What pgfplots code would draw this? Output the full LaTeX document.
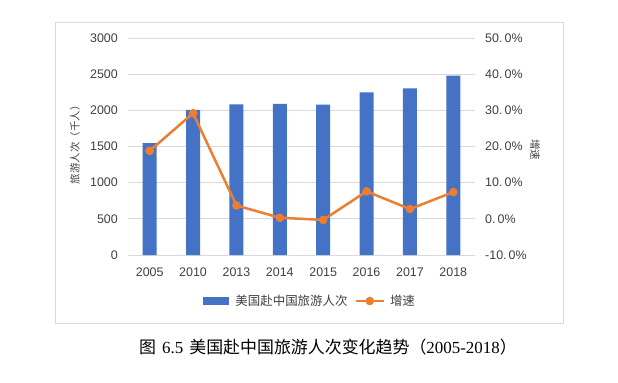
\documentclass[border=0pt]{standalone}
\usepackage{pgfplots}
\pgfplotsset{compat=1.18}
\usepackage{fontspec}
\setmainfont{Liberation Sans}
\newfontfamily\cjk{Noto Sans CJK SC}
\newfontfamily\serifnum{Liberation Serif}
\definecolor{barblue}{HTML}{4472C4}
\definecolor{lineorange}{HTML}{ED7D31}
\definecolor{gridgray}{HTML}{D9D9D9}
\definecolor{textgray}{HTML}{404040}
\pgfplotsset{
  linelegend/.style={legend image code/.code={\draw[mark repeat=2,mark phase=2,##1] plot coordinates {(0bp,0bp) (14bp,0bp) (28bp,0bp)};}},
  barlegend/.style={legend image code/.code={\fill[barblue] (0bp,-3.5bp) rectangle (25bp,3.5bp);}},
}
\begin{document}
\begin{tikzpicture}[x=1bp,y=1bp]
\path (0,0) rectangle (618,382);
\draw[gridgray, line width=1bp] (55,59) rectangle (563,359);
\begin{axis}[
  at={(128bp,127bp)}, anchor=south west,
  scale only axis, width=347bp, height=217bp,
  xmin=-0.5, xmax=7.5, ymin=0, ymax=3000,
  xtick={0,...,7}, xticklabels={2005,2010,2013,2014,2015,2016,2017,2018},
  ytick={0,500,...,3000},
  axis x line*=bottom, axis y line*=left,
  x axis line style={gridgray, line width=1bp, -},
  y axis line style={draw=none},
  ymajorgrids, grid style={gridgray, line width=0.8bp},
  major tick length=0pt,
  /pgf/number format/assume math mode=true,
  /pgf/number format/1000 sep={},
  tick label style={font=\fontsize{12.5}{14}\selectfont, text=textgray, inner sep=0pt},
  yticklabel style={xshift=-10bp},
  xticklabel style={yshift=-12.5bp},
  ylabel={\cjk 旅游人次（千人）},
  ylabel style={font=\fontsize{10.5}{12}\selectfont, text=textgray, at={(axis description cs:-0.153,0.52)}, anchor=center},
]
\addplot[ybar, bar width=14bp, fill=barblue, draw=none] coordinates {
(0,1548) (1,2005) (2,2083) (3,2088) (4,2078) (5,2249) (6,2304) (7,2479)};
\end{axis}
\begin{axis}[
  at={(128bp,127bp)}, anchor=south west,
  scale only axis, width=347bp, height=217bp,
  xmin=-0.5, xmax=7.5, ymin=-10, ymax=50,
  axis x line=none, axis y line*=right,
  y axis line style={draw=none},
  ytick={-10,0,10,20,30,40,50},
  yticklabels={-10.\,0\%,0.\,0\%,10.\,0\%,20.\,0\%,30.\,0\%,40.\,0\%,50.\,0\%},
  major tick length=0pt,
  tick label style={font=\fontsize{12.5}{14}\selectfont, text=textgray, inner sep=0pt},
  yticklabel style={xshift=10bp, anchor=west},
  ylabel={\cjk 增速},
  ylabel style={font=\fontsize{10.5}{12}\selectfont, text=textgray, at={(axis description cs:1.173,0.484)}, anchor=center, rotate=180},
  legend style={at={(0.5216,-0.212)}, anchor=center, draw=none, fill=none,
    legend columns=2, font=\cjk\fontsize{12.5}{14}\selectfont, text=textgray,
    /tikz/every even column/.append style={column sep=7bp},
    nodes={inner sep=0pt}, legend cell align=left},
]
\addlegendimage{barlegend}
\addlegendentry{\hspace{7bp}美国赴中国旅游人次}
\addlegendimage{lineorange, line width=2.5bp, mark=*, mark size=3bp, mark options={fill=lineorange}, linelegend}
\addlegendentry{\hspace{5bp}增速}
\addplot[lineorange, line width=2.5bp, mark=*, mark size=3bp, mark options={fill=lineorange}] coordinates {
(0,18.8) (1,29.2) (2,3.7) (3,0.3) (4,-0.3) (5,7.6) (6,2.7) (7,7.4)};
\end{axis}
\node[font=\fontsize{17}{20}\selectfont, text=black] at (328,35) {{\cjk 图}\hspace{6bp}{\serifnum 6.5}\hspace{6bp}{\cjk 美国赴中国旅游人次变化趋势（}{\serifnum 2005-2018}{\cjk ）}};
\end{tikzpicture}
\end{document}
